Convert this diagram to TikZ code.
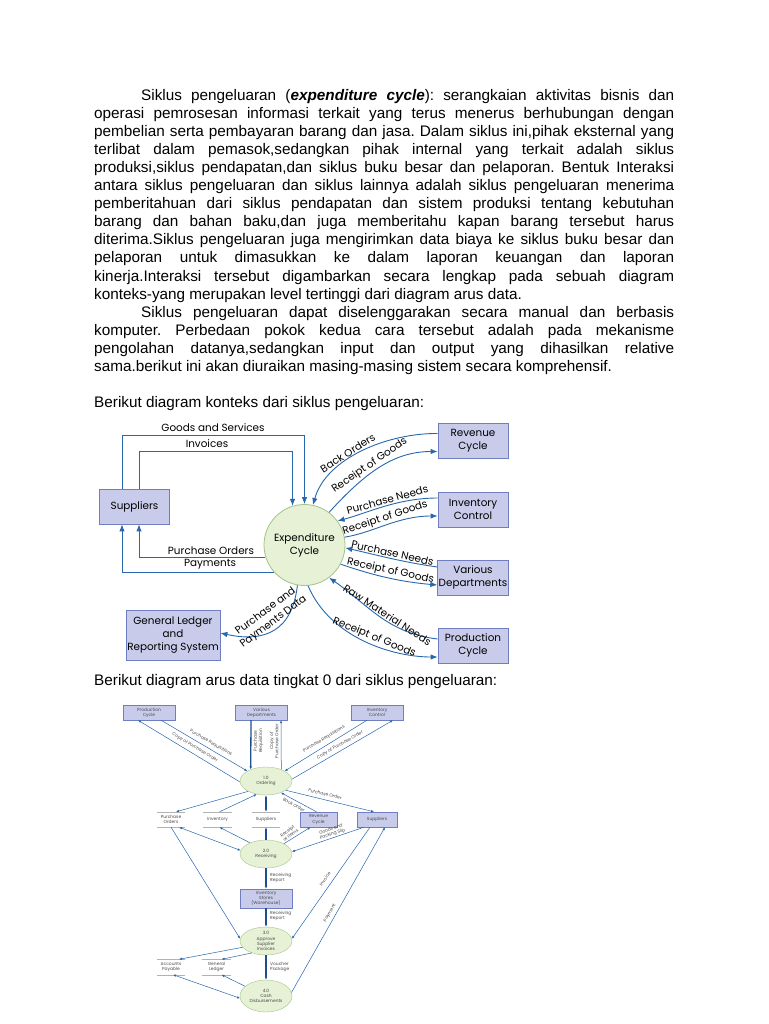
\documentclass[tikz,border=0pt]{standalone}
\usepackage{fontspec}
\setmainfont{Liberation Sans}
\newfontfamily\dfdfont{Poppins}
\usetikzlibrary{arrows.meta,shapes.geometric}
\definecolor{boxfill}{HTML}{C8CCEA}
\definecolor{boxline}{HTML}{6F7EC0}
\definecolor{procfill}{HTML}{E6F1D6}
\definecolor{procline}{HTML}{A3C487}
\definecolor{flowblue}{HTML}{2767AE}
\definecolor{flowdark}{HTML}{1C4F8E}
\definecolor{dfdtext}{HTML}{4A4A4A}
\newcommand\ctxfont{\dfdfont\fontsize{10.4}{13}\selectfont}
\newcommand\lvlfont{\dfdfont\fontsize{4.4}{5.2}\selectfont}
\frenchspacing
\tikzset{
  txt/.style={anchor=base west, inner sep=0pt, font=\fontsize{15.3}{17}\selectfont},
  ext/.style={draw=boxline, fill=boxfill, line width=0.8pt, minimum width=70pt,
    minimum height=35pt, inner sep=1pt, align=center, font=\ctxfont},
  proc/.style={circle, draw=procline, fill=procfill, line width=0.8pt,
    minimum size=81pt, inner sep=0pt, align=center, font=\ctxfont},
  flow/.style={draw=flowblue, line width=0.9pt, -{Latex[length=7pt,width=5.5pt]}},
  lbl/.style={inner sep=0pt, font=\ctxfont},
  onflow/.style={lbl, sloped, above, inner sep=1.2pt},
  ext2/.style={draw=boxline, fill=boxfill, line width=0.4pt, minimum width=52pt,
    minimum height=15pt, inner sep=0.5pt, align=center, font=\lvlfont, text=dfdtext},
  proc2/.style={ellipse, draw=procline, fill=procfill, line width=0.4pt,
    minimum width=52pt, minimum height=28pt, inner sep=0pt},
  store/.style={minimum width=28pt, minimum height=15pt, inner sep=0.5pt,
    align=center, font=\lvlfont, text=dfdtext},
  storeline/.style={draw=gray!60, line width=0.3pt},
  flow2/.style={draw=flowblue, line width=0.5pt, -{Latex[length=3pt,width=2.4pt]}},
  dflow2/.style={flow2, {Latex[length=3pt,width=2.4pt]}-{Latex[length=3pt,width=2.4pt]}},
  bold2/.style={flow2, draw=flowdark, line width=1.3pt},
  dbold2/.style={dflow2, draw=flowdark, line width=1.3pt},
  lbl2/.style={inner sep=0pt, align=center, font=\lvlfont, text=dfdtext}
}
\begin{document}
\begin{tikzpicture}[x=1pt,y=-1pt]
\path[use as bounding box, fill=white] (0,0) rectangle (768,1024);

% text of the page
\node[txt] (t1) at (141,100.5) {\makebox[533pt][s]{Siklus pengeluaran (\textbf{\textit{expenditure cycle}}): serangkaian aktivitas bisnis dan}};
\node[txt] (t2) at (94,118.55) {\makebox[580pt][s]{operasi pemrosesan informasi terkait yang terus menerus berhubungan dengan}};
\node[txt] (t3) at (94,136.6) {\makebox[580pt][s]{pembelian serta pembayaran barang dan jasa. Dalam siklus ini,pihak eksternal yang}};
\node[txt] (t4) at (94,154.65) {\makebox[580pt][s]{terlibat dalam pemasok,sedangkan pihak internal yang terkait adalah siklus}};
\node[txt] (t5) at (94,172.7) {\makebox[580pt][s]{produksi,siklus pendapatan,dan siklus buku besar dan pelaporan. Bentuk Interaksi}};
\node[txt] (t6) at (94,190.75) {\makebox[580pt][s]{antara siklus pengeluaran dan siklus lainnya adalah siklus pengeluaran menerima}};
\node[txt] (t7) at (94,208.8) {\makebox[580pt][s]{pemberitahuan dari siklus pendapatan dan sistem produksi tentang kebutuhan}};
\node[txt] (t8) at (94,226.85) {\makebox[580pt][s]{barang dan bahan baku,dan juga memberitahu kapan barang tersebut harus}};
\node[txt] (t9) at (94,244.9) {\makebox[580pt][s]{diterima.Siklus pengeluaran juga mengirimkan data biaya ke siklus buku besar dan}};
\node[txt] (t10) at (94,262.95) {\makebox[580pt][s]{pelaporan untuk dimasukkan ke dalam laporan keuangan dan laporan}};
\node[txt] (t11) at (94,281) {\makebox[580pt][s]{kinerja.Interaksi tersebut digambarkan secara lengkap pada sebuah diagram}};
\node[txt] (t12) at (94,299.05) {konteks-yang merupakan level tertinggi dari diagram arus data.};
\node[txt] (t13) at (141,317.1) {\makebox[533pt][s]{Siklus pengeluaran dapat diselenggarakan secara manual dan berbasis}};
\node[txt] (t14) at (94,335.15) {\makebox[580pt][s]{komputer. Perbedaan pokok kedua cara tersebut adalah pada mekanisme}};
\node[txt] (t15) at (94,353.2) {\makebox[580pt][s]{pengolahan datanya,sedangkan input dan output yang dihasilkan relative}};
\node[txt] (t16) at (94,371.25) {sama.berikut ini akan diuraikan masing-masing sistem secara komprehensif.};
\node[txt] (t17) at (94,407.35) {Berikut diagram konteks dari siklus pengeluaran:};
\node[txt] (t18) at (94,685.5) {Berikut diagram arus data tingkat 0 dari siklus pengeluaran:};

% context diagram
\node[ext] (sup) at (134.5,506.5) {Suppliers};
\node[ext] (rev) at (473,440.5) {Revenue\\Cycle};
\node[ext] (inv) at (473,509.5) {Inventory\\Control};
\node[ext] (var) at (473,577.5) {Various\\Departments};
\node[ext] (prod) at (473,645.5) {Production\\Cycle};
\node[ext, minimum width=94pt, minimum height=50pt] (gl) at (173,635) {General Ledger\\and\\Reporting System};
\node[proc] (exp) at (304.5,545) {Expenditure\\Cycle};

\draw[flow] ([xshift=-12.5pt]sup.north) -- ++(0,-53) -| (exp.north);
\draw[flow] ([xshift=4.5pt]sup.north) -- ++(0,-37) -| (exp.107);
\draw[flow] (exp.197) -| ([xshift=4.5pt]sup.south);
\draw[flow] (exp.222) -| ([xshift=-12.5pt]sup.south);
\node[lbl] (lgoods) at (213,428) {Goods and Services};
\node[lbl] (linvc) at (207,444) {Invoices};
\node[lbl] (lporder) at (211,551) {Purchase Orders};
\node[lbl] (lpaym) at (210,564) {Payments};

\draw[flow] ([yshift=7pt]rev.west) .. controls (388,433) and (326,458) .. (exp.78)
  node[onflow, pos=0.58] (lbo) {Back Orders};
\draw[flow] (exp.53) .. controls +(38,-42) and +(-42,0) .. ([yshift=-11pt]rev.west)
  node[onflow, pos=0.42] (lrg1) {Receipt of Goods};
\draw[flow] ([yshift=11.5pt]inv.west) .. controls +(-40,0) and +(30,-8) .. (exp.36)
  node[onflow, pos=0.45] (lpn1) {Purchase Needs};
\draw[flow] (exp.11) .. controls +(30,-5) and +(-40,0) .. ([yshift=-6.5pt]inv.west)
  node[onflow, pos=0.5] (lrg2) {Receipt of Goods};
\draw[flow] ([yshift=10.5pt]var.west) .. controls +(-35,-5) and +(35,8) .. (exp.-4)
  node[onflow, pos=0.5] (lpn2) {Purchase Needs};
\draw[flow] (exp.-28) .. controls +(35,12) and +(-35,-3) .. ([yshift=-7.5pt]var.west)
  node[onflow, pos=0.5] (lrg3) {Receipt of Goods};
\draw[flow] ([yshift=6.5pt]prod.west) .. controls +(-50,-6) and +(40,28) .. (exp.-53)
  node[onflow, pos=0.45] (lrm) {Raw Material Needs};
\draw[flow] (exp.-85) .. controls +(22,52) and +(-45,0) .. ([yshift=-11.5pt]prod.west)
  node[onflow, pos=0.55] (lrg4) {Receipt of Goods};
\draw[flow] (exp.-100) .. controls +(-5,45) and +(45,10) .. ([yshift=2pt]gl.east)
  node[onflow, pos=0.45, align=center] (lpp) {Purchase and\\Payments Data};

% level 0 diagram
\node[ext2] (pc2) at (149,712.5) {Production\\Cycle};
\node[ext2] (vd2) at (261.5,712.5) {Various\\Departments};
\node[ext2] (ic2) at (377,712.5) {Inventory\\Control};
\node[proc2] (p1) at (266,781) {};
\node[lbl2] (p1t) at (p1) {1.0\\Ordering};
\node[store] (spo) at (171,819.5) {Purchase\\Orders};
\node[store] (sinv) at (217.5,819.5) {Inventory};
\node[store] (ssup) at (266,819.5) {Suppliers};
\node[ext2, minimum width=37pt] (rc2) at (318.5,819.5) {Revenue\\Cycle};
\node[ext2, minimum width=40pt] (su2) at (377,819.5) {Suppliers};
\node[proc2] (p2) at (266,854) {};
\node[lbl2] (p2t) at (p2) {2.0\\Receiving};
\node[ext2, minimum height=19pt] (wh) at (266,898.5) {Inventory\\Stores\\(Warehouse)};
\node[proc2] (p3) at (266,941) {};
\node[lbl2] (p3t) at (p3) {3.0\\Approve\\Supplier\\Invoices};
\node[store] (sap) at (171,967) {Accounts\\Payable};
\node[store] (sgl) at (216.5,967) {General\\Ledger};
\node[proc2, minimum height=32pt] (p4) at (266,996) {};
\node[lbl2] (p4t) at (p4) {4.0\\Cash\\Disbursements};
\foreach \s in {spo,sinv,ssup,sap,sgl}
  \draw[storeline] (\s.north west) -- (\s.north east) (\s.south west) -- (\s.south east);

\draw[flow2] ([xshift=12pt]pc2.south) -- (p1.152);
\draw[flow2] (p1.182) -- ([xshift=-11pt]pc2.south);
\draw[bold2] ([xshift=-10.5pt]vd2.south) -- (p1.143);
\draw[flow2] (p1.37) -- ([xshift=19.5pt]vd2.south);
\draw[flow2] ([xshift=-10pt]ic2.south) -- (p1.28);
\draw[flow2] (p1.4) -- ([xshift=16pt]ic2.south);
\draw[flow2] (p1.-25) -- ([xshift=-3pt]su2.north);
\draw[flow2] ([xshift=-2pt]rc2.north) -- (p1.-38);
\draw[flow2] (p1.210) -- ([xshift=5pt]spo.north);
\draw[flow2] ([xshift=2pt]sinv.north) -- (p1.235);
\draw[dbold2] (p1.south) -- (ssup.north);
\draw[dflow2] ([xshift=8pt]spo.south) -- (p2.172);
\draw[flow2] (p2.145) -- ([xshift=2pt]sinv.south);
\draw[bold2] (p2.north) -- (ssup.south);
\draw[flow2] (p2.30) -- ([xshift=-8pt]rc2.south);
\draw[flow2] ([xshift=-13pt]su2.south) -- (p2.5)
  node[lbl2, sloped, above, inner sep=0.8pt, pos=0.42] (lgp) {Goods and\\Packing Slip};
\draw[bold2] (p2.south) -- (wh.north);
\draw[bold2] (wh.south) -- (p3.north);
\draw[flow2] (spo.south) -- (p3.175);
\draw[flow2] ([xshift=-7pt]su2.south) -- (p3.5);
\draw[flow2] (p4.8) -- ([xshift=8pt]su2.south);
\draw[flow2] (p3.195) -- ([xshift=8pt]sap.north);
\draw[flow2] (p3.220) -- ([xshift=5pt]sgl.north);
\draw[flow2] (p4.155) -- ([xshift=5pt]sgl.south);
\draw[dflow2] ([xshift=2pt]sap.south) -- (p4.185);
\draw[bold2] (p3.south) -- (p4.north);

\node[lbl2, rotate=-30] (lpr1) at (211,743) {Purchase Requisitions};
\node[lbl2, rotate=-31] (lcp1) at (195,747.5) {Copy of Purchase Order};
\node[lbl2, rotate=90] (lpr2) at (258.5,741) {Purchase\\Requisition};
\node[lbl2, rotate=90] (lcp2) at (274,741) {Copy of\\Purchase Order};
\node[lbl2, rotate=31] (lpr3) at (324,739) {Purchase Requisitions};
\node[lbl2, rotate=30] (lcp3) at (340,745) {Copy of Purchase Order};
\node[lbl2, rotate=-14] (lpo2) at (325,794) {Purchase Order};
\node[lbl2, rotate=-29] (lbo2) at (294,805) {Back Order};
\node[lbl2, rotate=38] (lri) at (289,833) {Receipt\\of Items};
\node[lbl2, anchor=west, align=left] (lrr1) at (270,878) {Receiving\\Report};
\node[lbl2, anchor=west, align=left] (lrr2) at (270,916) {Receiving\\Report};
\node[lbl2, anchor=west, align=left] (lvp) at (270,967) {Voucher\\Package};
\node[lbl2, rotate=55] (linv2) at (325,879) {Invoice};
\node[lbl2, rotate=60] (lpay2) at (330,913) {Payment};
\end{tikzpicture}
\end{document}
